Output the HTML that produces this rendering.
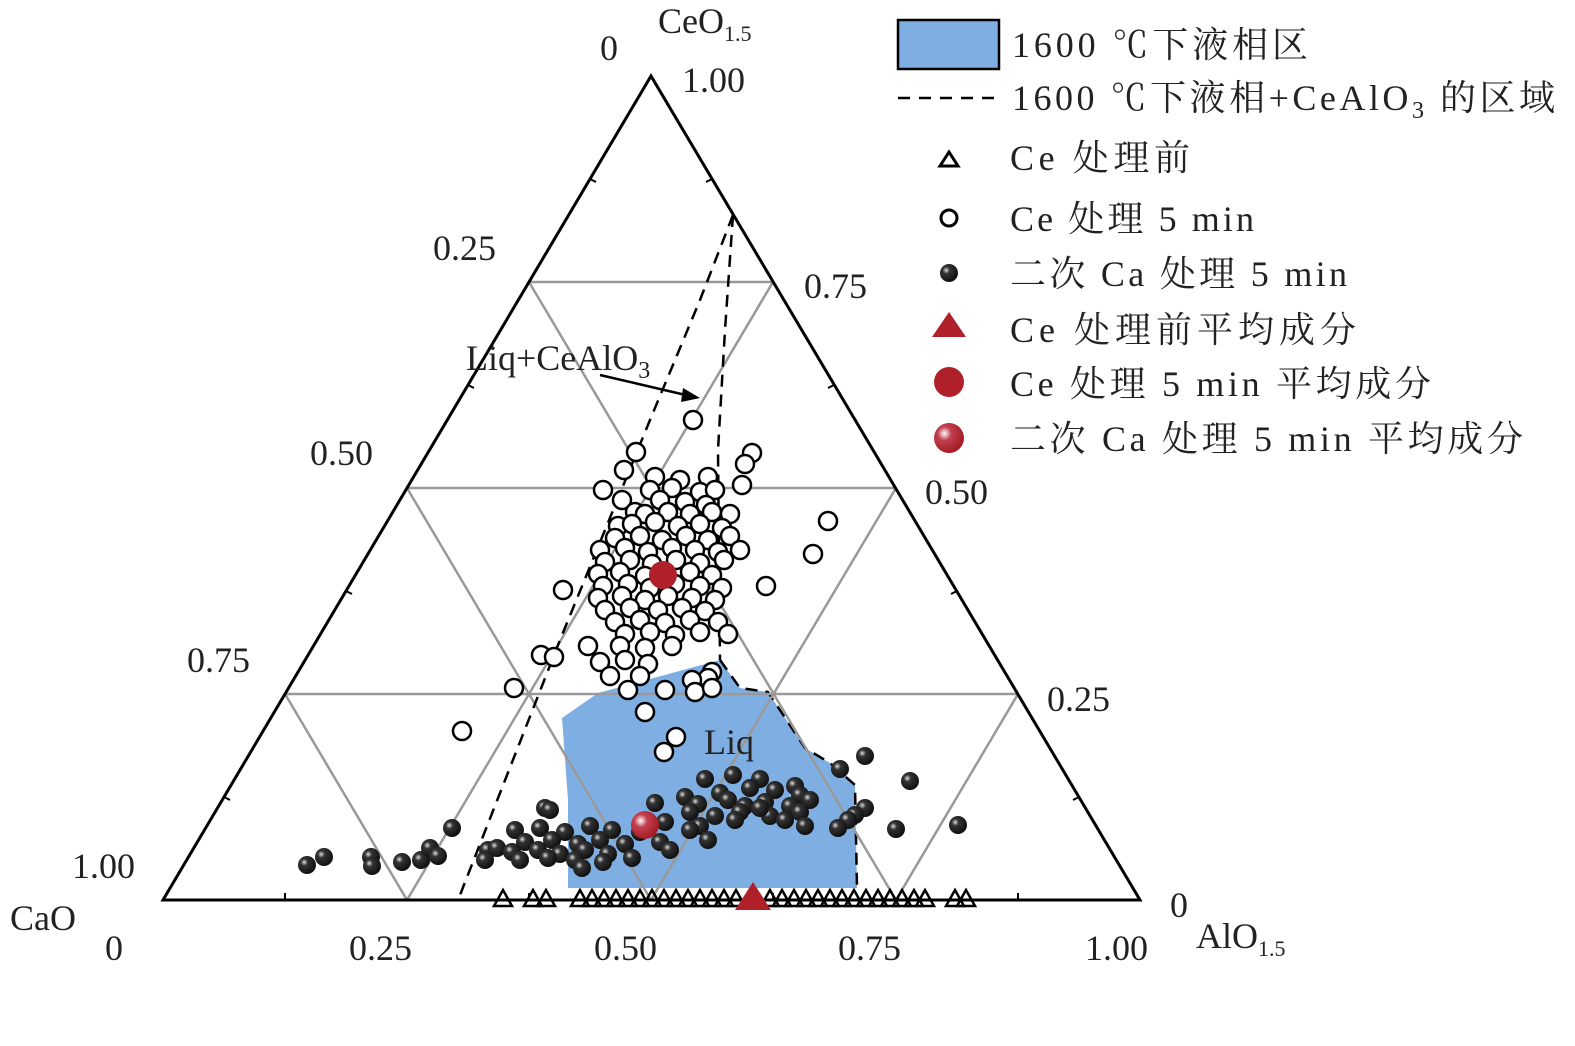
<!DOCTYPE html>
<html><head><meta charset="utf-8"><style>
html,body{margin:0;padding:0;background:#fff;}
svg{display:block;font-family:"Liberation Serif","Noto Serif CJK SC",serif;}
</style></head><body>
<svg width="1575" height="1046" viewBox="0 0 1575 1046" xmlns="http://www.w3.org/2000/svg">
<defs>
<radialGradient id="bk" cx="0.35" cy="0.35" r="0.65"><stop offset="0" stop-color="#ddd"/><stop offset="0.3" stop-color="#333"/><stop offset="1" stop-color="#111"/></radialGradient>
<radialGradient id="rd" cx="0.35" cy="0.35" r="0.65"><stop offset="0" stop-color="#fff"/><stop offset="0.35" stop-color="#c24050"/><stop offset="1" stop-color="#a51c25"/></radialGradient>
<circle id="o" r="9" fill="#fff" stroke="#000" stroke-width="2.5"/>
<circle id="b" r="9" fill="url(#bk)"/>
<polygon id="t" points="0,-8 -9,8 9,8" fill="none" stroke="#000" stroke-width="2.5"/>
</defs>
<polygon points="562,718 598,693 720,660 740,688 768,692 805,748 830,763 855,785 857,888 568,888 568,800" fill="#7faee3"/>
<polyline points="720,660 740,688 768,692 805,748 830,763 855,785 857,888" fill="none" stroke="#000" stroke-width="2.5" stroke-dasharray="12,8"/>
<g stroke="#999" stroke-width="2.5" fill="none">
<line x1="529" y1="282" x2="773" y2="282"/><line x1="407" y1="488" x2="896" y2="488"/><line x1="285" y1="694" x2="1018" y2="694"/>
<line x1="407" y1="900" x2="773" y2="282"/><line x1="651" y1="900" x2="896" y2="488"/><line x1="896" y1="900" x2="1018" y2="694"/>
<line x1="896" y1="900" x2="529" y2="282"/><line x1="651" y1="900" x2="407" y2="488"/><line x1="407" y1="900" x2="285" y2="694"/>
</g>
<polygon points="163,900 1140,900 651,76" fill="none" stroke="#000" stroke-width="3"/>
<g stroke="#000" stroke-width="2">
<line x1="285" y1="900" x2="285" y2="893"/><line x1="529" y1="900" x2="529" y2="893"/><line x1="773" y1="900" x2="773" y2="893"/><line x1="1018" y1="900" x2="1018" y2="893"/>
<line x1="1079" y1="797" x2="1073" y2="800"/><line x1="957" y1="591" x2="951" y2="594"/><line x1="834" y1="385" x2="828" y2="388"/><line x1="712" y1="179" x2="706" y2="182"/>
<line x1="224" y1="797" x2="230" y2="800"/><line x1="346" y1="591" x2="352" y2="594"/><line x1="468" y1="385" x2="474" y2="388"/><line x1="590" y1="179" x2="596" y2="182"/>
</g>
<g stroke="#000" stroke-width="2.5" fill="none" stroke-dasharray="12,8">
<polyline points="733,215 700,300 650,420 560,640 460,895"/>
<polyline points="733,215 725,330 718,450 720,660"/>
</g>
<line x1="600" y1="375" x2="690" y2="396" stroke="#000" stroke-width="2.5"/>
<polygon points="700,398 683,388 681,402" fill="#000"/>
<g>
<use href="#t" x="503" y="898"/><use href="#t" x="533" y="898"/><use href="#t" x="546" y="898"/><use href="#t" x="955" y="898"/><use href="#t" x="966" y="898"/>
<use href="#t" x="580" y="898"/><use href="#t" x="592" y="898"/><use href="#t" x="604" y="898"/><use href="#t" x="616" y="898"/><use href="#t" x="628" y="898"/><use href="#t" x="640" y="898"/><use href="#t" x="652" y="898"/><use href="#t" x="664" y="898"/><use href="#t" x="676" y="898"/><use href="#t" x="688" y="898"/><use href="#t" x="700" y="898"/><use href="#t" x="712" y="898"/><use href="#t" x="724" y="898"/><use href="#t" x="736" y="898"/><use href="#t" x="770" y="898"/><use href="#t" x="782" y="898"/><use href="#t" x="794" y="898"/><use href="#t" x="806" y="898"/><use href="#t" x="818" y="898"/><use href="#t" x="830" y="898"/><use href="#t" x="842" y="898"/><use href="#t" x="854" y="898"/><use href="#t" x="866" y="898"/><use href="#t" x="878" y="898"/><use href="#t" x="890" y="898"/><use href="#t" x="902" y="898"/><use href="#t" x="914" y="898"/><use href="#t" x="925" y="898"/>
</g>
<g>
<use href="#o" x="693" y="420"/><use href="#o" x="636" y="452"/><use href="#o" x="752" y="453"/><use href="#o" x="745" y="464"/><use href="#o" x="624" y="470"/><use href="#o" x="742" y="485"/><use href="#o" x="828" y="521"/><use href="#o" x="813" y="554"/><use href="#o" x="766" y="586"/><use href="#o" x="563" y="590"/><use href="#o" x="541" y="655"/><use href="#o" x="554" y="657"/><use href="#o" x="514" y="688"/><use href="#o" x="462" y="731"/><use href="#o" x="645" y="712"/><use href="#o" x="676" y="737"/><use href="#o" x="664" y="752"/>
<use href="#o" x="655" y="477"/><use href="#o" x="680" y="480"/><use href="#o" x="708" y="477"/>
<use href="#o" x="603" y="490"/><use href="#o" x="650" y="490"/><use href="#o" x="672" y="488"/><use href="#o" x="700" y="492"/><use href="#o" x="715" y="490"/>
<use href="#o" x="622" y="500"/><use href="#o" x="660" y="500"/><use href="#o" x="685" y="502"/><use href="#o" x="706" y="505"/>
<use href="#o" x="635" y="512"/><use href="#o" x="645" y="514"/><use href="#o" x="668" y="512"/><use href="#o" x="690" y="514"/><use href="#o" x="712" y="512"/><use href="#o" x="730" y="514"/>
<use href="#o" x="618" y="526"/><use href="#o" x="632" y="524"/><use href="#o" x="655" y="522"/><use href="#o" x="678" y="526"/><use href="#o" x="700" y="524"/><use href="#o" x="722" y="528"/>
<use href="#o" x="615" y="538"/><use href="#o" x="640" y="536"/><use href="#o" x="662" y="540"/><use href="#o" x="686" y="536"/><use href="#o" x="708" y="540"/><use href="#o" x="730" y="536"/>
<use href="#o" x="600" y="550"/><use href="#o" x="625" y="548"/><use href="#o" x="648" y="552"/><use href="#o" x="672" y="548"/><use href="#o" x="695" y="550"/><use href="#o" x="718" y="552"/><use href="#o" x="740" y="550"/>
<use href="#o" x="605" y="562"/><use href="#o" x="630" y="560"/><use href="#o" x="652" y="564"/><use href="#o" x="676" y="560"/><use href="#o" x="700" y="563"/><use href="#o" x="724" y="560"/>
<use href="#o" x="598" y="574"/><use href="#o" x="620" y="572"/><use href="#o" x="645" y="576"/><use href="#o" x="690" y="572"/><use href="#o" x="712" y="575"/>
<use href="#o" x="603" y="586"/><use href="#o" x="628" y="584"/><use href="#o" x="650" y="588"/><use href="#o" x="675" y="584"/><use href="#o" x="700" y="586"/><use href="#o" x="722" y="588"/>
<use href="#o" x="598" y="598"/><use href="#o" x="622" y="596"/><use href="#o" x="645" y="600"/><use href="#o" x="668" y="596"/><use href="#o" x="692" y="598"/><use href="#o" x="715" y="600"/>
<use href="#o" x="605" y="610"/><use href="#o" x="630" y="608"/><use href="#o" x="658" y="610"/><use href="#o" x="682" y="608"/><use href="#o" x="705" y="611"/>
<use href="#o" x="615" y="622"/><use href="#o" x="640" y="620"/><use href="#o" x="665" y="623"/><use href="#o" x="690" y="620"/><use href="#o" x="718" y="622"/>
<use href="#o" x="625" y="634"/><use href="#o" x="650" y="632"/><use href="#o" x="675" y="635"/><use href="#o" x="700" y="632"/><use href="#o" x="728" y="634"/>
<use href="#o" x="588" y="646"/><use href="#o" x="620" y="646"/><use href="#o" x="645" y="648"/><use href="#o" x="672" y="646"/>
<use href="#o" x="600" y="662"/><use href="#o" x="625" y="660"/><use href="#o" x="648" y="664"/><use href="#o" x="712" y="672"/>
<use href="#o" x="610" y="676"/><use href="#o" x="640" y="676"/><use href="#o" x="708" y="678"/><use href="#o" x="692" y="680"/>
<use href="#o" x="628" y="690"/><use href="#o" x="665" y="690"/><use href="#o" x="695" y="692"/><use href="#o" x="712" y="688"/>
</g>
<g>
<use href="#b" x="307" y="865"/><use href="#b" x="324" y="857"/><use href="#b" x="371" y="857"/><use href="#b" x="372" y="866"/><use href="#b" x="402" y="862"/><use href="#b" x="421" y="860"/><use href="#b" x="430" y="848"/><use href="#b" x="438" y="856"/><use href="#b" x="452" y="828"/><use href="#b" x="865" y="756"/><use href="#b" x="910" y="781"/><use href="#b" x="958" y="825"/><use href="#b" x="896" y="829"/><use href="#b" x="840" y="769"/><use href="#b" x="865" y="808"/><use href="#b" x="488" y="850"/><use href="#b" x="497" y="848"/>
<use href="#b" x="705" y="779"/><use href="#b" x="733" y="775"/><use href="#b" x="760" y="779"/><use href="#b" x="795" y="786"/>
<use href="#b" x="685" y="797"/><use href="#b" x="720" y="793"/><use href="#b" x="750" y="788"/><use href="#b" x="775" y="790"/><use href="#b" x="800" y="795"/>
<use href="#b" x="698" y="804"/><use href="#b" x="728" y="800"/><use href="#b" x="745" y="806"/><use href="#b" x="765" y="802"/><use href="#b" x="790" y="806"/><use href="#b" x="810" y="800"/><use href="#b" x="855" y="815"/>
<use href="#b" x="655" y="803"/><use href="#b" x="690" y="812"/><use href="#b" x="715" y="816"/><use href="#b" x="740" y="812"/><use href="#b" x="770" y="816"/><use href="#b" x="800" y="812"/><use href="#b" x="848" y="820"/>
<use href="#b" x="665" y="822"/><use href="#b" x="700" y="826"/><use href="#b" x="735" y="820"/><use href="#b" x="760" y="808"/><use href="#b" x="785" y="820"/><use href="#b" x="805" y="826"/>
<use href="#b" x="640" y="832"/><use href="#b" x="690" y="830"/><use href="#b" x="838" y="828"/><use href="#b" x="660" y="842"/><use href="#b" x="708" y="840"/><use href="#b" x="670" y="850"/>
<use href="#b" x="515" y="830"/><use href="#b" x="540" y="828"/><use href="#b" x="565" y="832"/><use href="#b" x="590" y="826"/><use href="#b" x="612" y="830"/>
<use href="#b" x="525" y="842"/><use href="#b" x="552" y="840"/><use href="#b" x="578" y="844"/><use href="#b" x="600" y="840"/><use href="#b" x="625" y="844"/>
<use href="#b" x="512" y="852"/><use href="#b" x="538" y="850"/><use href="#b" x="560" y="854"/><use href="#b" x="585" y="850"/><use href="#b" x="608" y="854"/><use href="#b" x="632" y="858"/>
<use href="#b" x="485" y="860"/><use href="#b" x="520" y="860"/><use href="#b" x="548" y="858"/><use href="#b" x="575" y="860"/><use href="#b" x="603" y="862"/><use href="#b" x="582" y="868"/>
<use href="#b" x="545" y="808"/><use href="#b" x="550" y="810"/>
</g>
<circle cx="663" cy="575" r="14" fill="#b0202b"/>
<circle cx="645" cy="825" r="14" fill="url(#rd)"/>
<polygon points="753,882 735,910 771,910" fill="#b0202b"/>
<g font-size="36" fill="#222">
<text x="466" y="370">Liq+CeAlO<tspan font-size="24" dy="8">3</tspan></text>
<text x="704" y="754">Liq</text>
<text x="658" y="33">CeO<tspan font-size="22" dy="8">1.5</tspan></text>
<text x="600" y="60">0</text><text x="682" y="92">1.00</text>
<text x="433" y="260">0.25</text><text x="804" y="298">0.75</text>
<text x="310" y="465">0.50</text><text x="925" y="504">0.50</text>
<text x="187" y="672">0.75</text><text x="1047" y="711">0.25</text>
<text x="72" y="878">1.00</text><text x="1170" y="917">0</text>
<text x="10" y="930">CaO</text>
<text x="105" y="960">0</text><text x="349" y="960">0.25</text><text x="594" y="960">0.50</text><text x="838" y="960">0.75</text><text x="1085" y="960">1.00</text>
<text x="1196" y="948">AlO<tspan font-size="22" dy="8">1.5</tspan></text>
</g>
<rect x="898" y="20" width="101" height="49" fill="#7faee3" stroke="#000" stroke-width="2.5"/>
<line x1="898" y1="98" x2="999" y2="98" stroke="#000" stroke-width="2.5" stroke-dasharray="12,9"/>
<polygon points="949,152 940,166 958,166" fill="none" stroke="#000" stroke-width="3"/>
<circle cx="949" cy="218" r="8" fill="#fff" stroke="#000" stroke-width="3"/>
<circle cx="949" cy="273" r="9" fill="url(#bk)"/>
<polygon points="949,312 932,337 966,337" fill="#b0202b"/>
<circle cx="949" cy="382" r="15" fill="#b0202b"/>
<circle cx="949" cy="438" r="15" fill="url(#rd)"/>
<g font-size="36" fill="#222">
<text x="1012" y="57" textLength="296">1600 ℃下液相区</text>
<text x="1012" y="110" textLength="543">1600 ℃下液相+CeAlO<tspan font-size="24" dy="8">3</tspan><tspan dy="-8"> 的区域</tspan></text>
<text x="1010" y="170" textLength="180">Ce 处理前</text>
<text x="1010" y="231" textLength="244">Ce 处理 5 min</text>
<text x="1010" y="286" textLength="337">二次 Ca 处理 5 min</text>
<text x="1010" y="342" textLength="346">Ce 处理前平均成分</text>
<text x="1010" y="396" textLength="421">Ce 处理 5 min 平均成分</text>
<text x="1010" y="451" textLength="513">二次 Ca 处理 5 min 平均成分</text>
</g>
</svg>
</body></html>
